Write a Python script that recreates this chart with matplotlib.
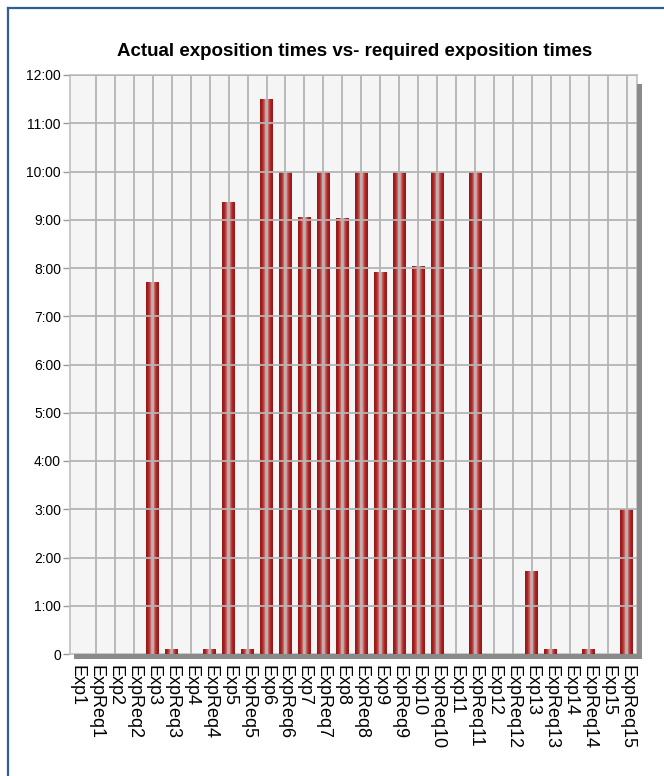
#!/usr/bin/env python3
"""Actual vs required exposition times, bar chart with cylinder-shaded bars."""

import matplotlib

matplotlib.use("Agg")

import matplotlib.pyplot as plt
import numpy as np
from matplotlib.colors import LinearSegmentedColormap
from matplotlib.lines import Line2D
from matplotlib.patches import Rectangle
from matplotlib.ticker import FuncFormatter

# categories, alternating actual / required
categories = [
    "Exp1", "ExpReq1", "Exp2", "ExpReq2", "Exp3", "ExpReq3", "Exp4", "ExpReq4",
    "Exp5", "ExpReq5", "Exp6", "ExpReq6", "Exp7", "ExpReq7", "Exp8", "ExpReq8",
    "Exp9", "ExpReq9", "Exp10", "ExpReq10", "Exp11", "ExpReq11", "Exp12", "ExpReq12",
    "Exp13", "ExpReq13", "Exp14", "ExpReq14", "Exp15", "ExpReq15",
]
# durations in hours
hours = [
    0.0, 0.0, 0.0, 0.0, 7.71, 0.1, 0.0, 0.1,
    9.36, 0.1, 11.5, 10.0, 9.06, 10.0, 9.03, 10.0,
    7.91, 10.0, 8.05, 10.0, 0.0, 10.0, 0.0, 0.0,
    1.72, 0.1, 0.0, 0.1, 0.0, 3.0,
]
y_ticks = list(range(0, 13))

TITLE = "Actual exposition times vs- required exposition times"
W, H = 664, 776


def hour_label(v, _pos):
    v = int(round(v))
    return "0" if v == 0 else f"{v}:00"


fig = plt.figure(figsize=(W / 100, H / 100), dpi=100)
fig.patch.set_facecolor("white")

# axes box in pixels: x 70..637, y 75..654
ax = fig.add_axes([70 / W, 1 - 654 / H, 567 / W, 579 / H])
ax.set_facecolor("#f5f5f5")

x = np.arange(len(categories))
bar_w = 0.68
bars = ax.bar(x, hours, width=bar_w, color="#a01d1d", zorder=2, linewidth=0)

# cylinder-style shading inside each bar
shade = LinearSegmentedColormap.from_list(
    "cyl", ["#961616", "#a82020", "#c45a5a", "#ebd2d2", "#c45a5a", "#a82020", "#961616"]
)
grad = np.linspace(0, 1, 64).reshape(1, -1)
for b in bars:
    if b.get_height() <= 0:
        continue
    x0, w, h = b.get_x(), b.get_width(), b.get_height()
    im = ax.imshow(grad, cmap=shade, extent=(x0, x0 + w, 0, h), aspect="auto",
                   interpolation="bilinear", zorder=3)
    im.set_clip_path(b)

# grid drawn on top of the bars
grid_kw = dict(color="#b4b4b4", linewidth=1.3, zorder=4)
for yv in y_ticks[1:]:
    ax.axhline(yv, **grid_kw)
ax.vlines(x[1:], 0, 12, **grid_kw)

ax.set_xlim(-0.37, 29.55)
ax.set_ylim(0, 12)

ax.set_yticks(y_ticks)
ax.yaxis.set_major_formatter(FuncFormatter(hour_label))
ax.set_xticks(x)
ax.set_xticklabels(categories, rotation=270, ha="center", va="top",
                   fontsize=13, family="Liberation Sans")
for lab in ax.get_yticklabels():
    lab.set_family("Liberation Sans")
ax.tick_params(axis="y", length=5, width=1, color="#999999", pad=1.5, labelsize=10)
ax.tick_params(axis="x", length=3, width=1, color="#999999", pad=5)
ax.xaxis.get_major_ticks()[0].tick1line.set_visible(False)

for side, sp in ax.spines.items():
    sp.set_color("#c0c0c0")
    sp.set_linewidth(1.2)

# 3D-ish shadow along the right and bottom edges
dx, dy = 4.5 / 567, 4.5 / 579
ax.add_patch(Rectangle((1.0, -dy), dx, 1.0 - 0.008, transform=ax.transAxes,
                       facecolor="#8a8a8a", edgecolor="none", clip_on=False, zorder=5))
ax.add_patch(Rectangle((0.007, -dy), 1.0 - 0.007 + dx, dy, transform=ax.transAxes,
                       facecolor="#8a8a8a", edgecolor="none", clip_on=False, zorder=5))

fig.text(355 / W, 1 - 52 / H, TITLE, ha="center", va="center",
         fontsize=13.5, fontweight="bold", family="Liberation Sans")

# outer frame (left and top edges are visible in the crop)
frame_kw = dict(color="#2f5f96", linewidth=1.6, transform=fig.transFigure)
fig.add_artist(Line2D([7.5 / W, 7.5 / W], [0, 1 - 8 / H], **frame_kw))
fig.add_artist(Line2D([7.5 / W, 1.0], [1 - 8 / H, 1 - 8 / H], **frame_kw))

fig.savefig("out.png", dpi=100)
